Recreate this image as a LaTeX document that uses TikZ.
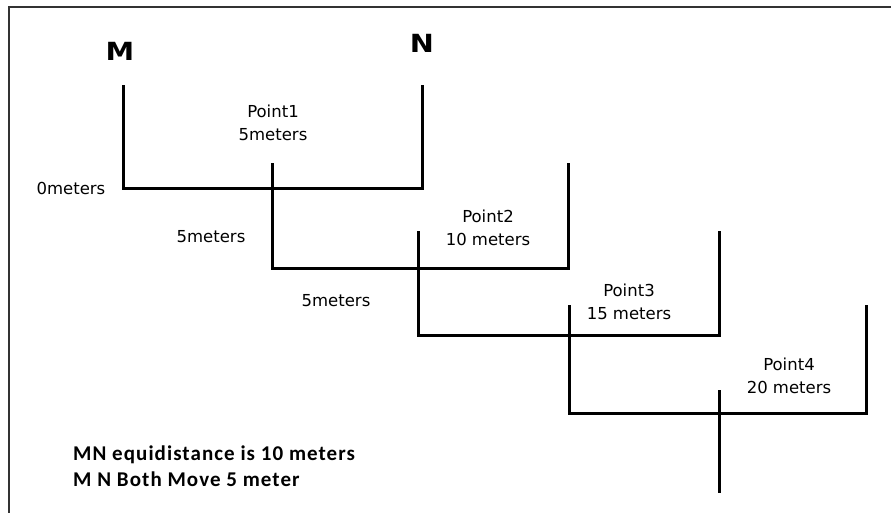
\documentclass[tikz,border=0pt]{standalone}
\usepackage{fontspec}
\setmainfont{DejaVu Sans}
\newfontfamily\notefont[LetterSpace=5]{Carlito}
\usepackage{tikz}

\begin{document}
\begin{tikzpicture}[x=1pt, y=-1pt, every node/.style={inner sep=0pt},
	bar/.style={line width=3pt, line join=miter},
	lbl/.style={font=\fontsize{16.5}{23}\selectfont, align=center},
	big/.style={font=\fontsize{25}{28}\selectfont\bfseries, xscale=1.15},
	note/.style={font=\fontsize{21}{26}\notefont\bfseries, anchor=base west}]
	\useasboundingbox (0,0) rectangle (891,512);
	\draw[line width=2pt, black!80] (9,515) -- (9,7) -- (894,7);
	% the four brackets, each moved 5 meters
	\foreach \i/\l/\r/\t/\b in {1/123/422/85/188, 2/272/568/163/268, 3/418/719/231/335, 4/569/866/305/413} {
		\draw[bar] (\l,\t) -- (\l,\b) -- (\r,\b) -- (\r,\t);
	}
	\draw[bar] (719,390) -- (719,493);
	\node[big] (M) at (120,51) {M};
	\node[big] (N) at (422,43) {N};
	\node[lbl] (P1) at (273,122.5) {Point1\\5meters};
	\node[lbl] (P2) at (488,227.5) {Point2\\10 meters};
	\node[lbl] (P3) at (629,301.5) {Point3\\15 meters};
	\node[lbl] (P4) at (789,375.5) {Point4\\20 meters};
	\node[lbl] (d0) at (71,188) {0meters};
	\node[lbl] (d1) at (211,237) {5meters};
	\node[lbl] (d2) at (336,301) {5meters};
	\node[note] (note1) at (73,460) {MN equidistance is 10 meters};
	\node[note] (note2) at (73,486) {M N Both Move 5 meter};
\end{tikzpicture}
\end{document}
